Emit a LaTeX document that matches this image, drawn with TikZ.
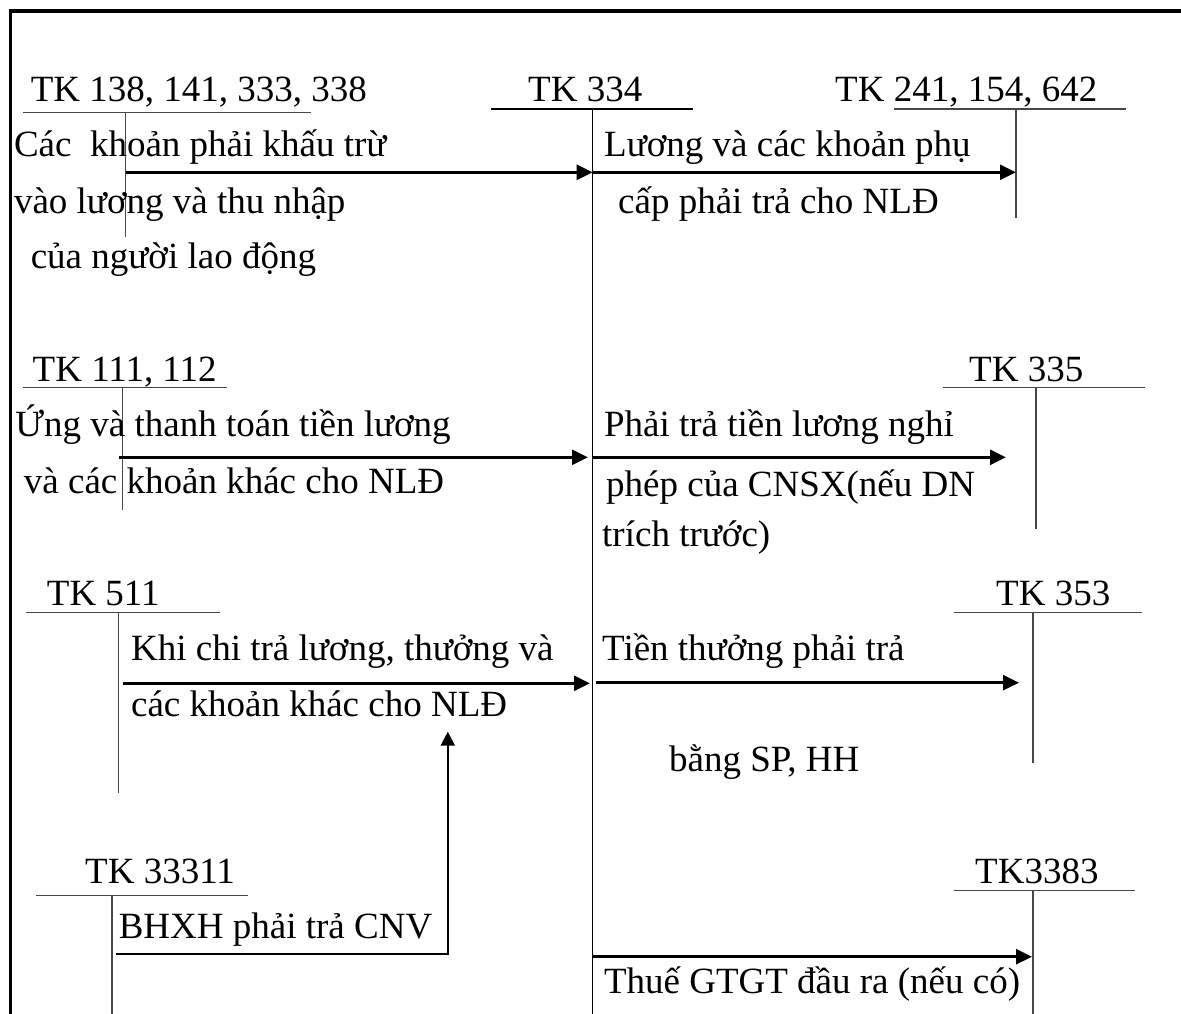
\documentclass[tikz,border=0pt]{standalone}
\usepackage{fontspec}
\setmainfont{Liberation Serif}
\usetikzlibrary{arrows.meta}
\tikzset{
  txt/.style={anchor=base west, inner sep=0pt, font=\fontsize{37}{44}\selectfont},
  tline/.style={draw=black!72, line width=1.5pt},
  mainline/.style={draw=black, line width=1.4pt},
  arr/.style={draw=black, line width=2.8pt, -{Triangle[length=16pt,width=15pt]}},
  frame/.style={draw=black, line width=3.6pt},
}
\begin{document}
\begin{tikzpicture}[x=1pt,y=-1pt]
\useasboundingbox (0,0) rectangle (1181,1014);
% frame
\draw[frame] (10.5,1016) -- (10.5,11) -- (1183,11);

% ---- T-account titles
\node[txt] (n138) at (30.6,101.7) {TK 138, 141, 333, 338};
\node[txt] (n334) at (528,101.7) {TK 334};
\node[txt] (n241) at (835,101.7) {TK 241, 154, 642};
\node[txt] (n111) at (32.5,381.7) {TK 111, 112};
\node[txt] (n335) at (969,381.7) {TK 335};
\node[txt] (n511) at (46.7,605) {TK 511};
\node[txt] (n353) at (996,605) {TK 353};
\node[txt] (n33311) at (85,883.3) {TK 33311};
\node[txt] (n3383) at (975,883.3) {TK3383};

% ---- T-account coordinates (top of vertical, bottom of vertical)
\coordinate (v138t) at (125.5,112.7);  \coordinate (v138b) at (125.5,237);
\coordinate (v334t) at (592.6,109);    \coordinate (v334b) at (592.6,1016);
\coordinate (v241t) at (1016,109);     \coordinate (v241b) at (1016,218);
\coordinate (v111t) at (122.5,387.7);  \coordinate (v111b) at (122.5,510);
\coordinate (v335t) at (1036,387.7);   \coordinate (v335b) at (1036,529);
\coordinate (v511t) at (118.6,612.7);  \coordinate (v511b) at (118.6,793);
\coordinate (v353t) at (1033,612.7);   \coordinate (v353b) at (1033,763);
\coordinate (v33311t) at (112,895.5);  \coordinate (v33311b) at (112,1016);
\coordinate (v3383t) at (1033,890.7);  \coordinate (v3383b) at (1033,1016);

% ---- T-account lines
\draw[tline] (23,112.7) -- (311,112.7);  \draw[tline] (v138t) -- (v138b);
\draw[mainline] (491,109) -- (693,109);  \draw[mainline] (v334t) -- (v334b);
\draw[tline] (894,109) -- (1126,109);    \draw[tline] (v241t) -- (v241b);
\draw[tline] (23,387.7) -- (226.6,387.7); \draw[tline] (v111t) -- (v111b);
\draw[tline] (943,387.7) -- (1145,387.7); \draw[tline] (v335t) -- (v335b);
\draw[tline] (26,612.7) -- (220,612.7);  \draw[tline] (v511t) -- (v511b);
\draw[tline] (953.7,612.7) -- (1141.5,612.7); \draw[tline] (v353t) -- (v353b);
\draw[tline] (36.4,895.5) -- (248,895.5); \draw[tline] (v33311t) -- (v33311b);
\draw[tline] (953.7,890.7) -- (1134.6,890.7); \draw[tline] (v3383t) -- (v3383b);

% ---- arrow end points
\coordinate (a1s) at (125.5,172.3); \coordinate (a1e) at (592.6,172.3);
\coordinate (a2s) at (592.6,172.3); \coordinate (a2e) at (1016,172.3);
\coordinate (a3s) at (119.4,457.3); \coordinate (a3e) at (588,457.3);
\coordinate (a4s) at (592.6,457.3); \coordinate (a4e) at (1006,457.3);
\coordinate (a5s) at (122.5,683.3); \coordinate (a5e) at (590,683.3);
\coordinate (a6s) at (596,682.7);   \coordinate (a6e) at (1019,682.7);
\coordinate (a7s) at (116,954);     \coordinate (a7m) at (447.8,954);
\coordinate (a7e) at (447.8,731.7);
\coordinate (a8s) at (592.6,956.7); \coordinate (a8e) at (1032,956.7);

\draw[arr] (a1s) -- (a1e);
\draw[arr] (a2s) -- (a2e);
\draw[arr] (a3s) -- (a3e);
\draw[arr] (a4s) -- (a4e);
\draw[arr] (a5s) -- (a5e);
\draw[arr] (a6s) -- (a6e);
\draw[arr, line width=2.3pt, -{Triangle[length=14pt,width=14pt]}] (a7s) -- (a7m) -- (a7e);
\draw[arr] (a8s) -- (a8e);

% ---- labels
\node[txt] (l1a) at (13.8,156.7) {Các\ \ khoản phải khấu trừ};
\node[txt] (l1b) at (13.8,213) {vào lương và thu nhập};
\node[txt] (l1c) at (30.6,268) {của người lao động};
\node[txt] (l2a) at (604,157) {Lương và các khoản phụ};
\node[txt] (l2b) at (618,213) {cấp phải trả cho NLĐ};
\node[txt] (l3a) at (15.3,436.7) {Ứng và thanh toán tiền lương};
\node[txt] (l3b) at (23.7,493) {và các khoản khác cho NLĐ};
\node[txt] (l4a) at (603.8,436.7) {Phải trả tiền lương nghỉ};
\node[txt] (l4b) at (606,496.7) {phép của CNSX(nếu DN};
\node[txt] (l4c) at (602,546.7) {trích trước)};
\node[txt] (l5a) at (130.9,660) {Khi chi trả lương, thưởng và};
\node[txt] (l5b) at (130.9,716.7) {các khoản khác cho NLĐ};
\node[txt] (l6a) at (602,660) {Tiền thưởng phải trả};
\node[txt] (l6b) at (669,771.7) {bằng SP, HH};
\node[txt] (l7a) at (118.6,938.3) {BHXH phải trả CNV};
\node[txt] (l8a) at (603.8,993.3) {Thuế GTGT đầu ra (nếu có)};
\end{tikzpicture}
\end{document}
